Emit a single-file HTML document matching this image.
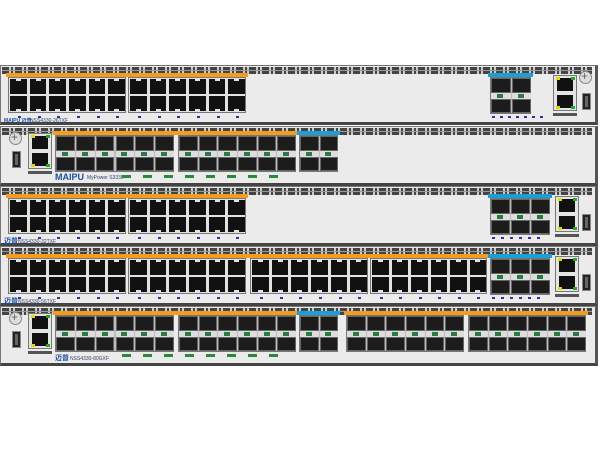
<!DOCTYPE html><html><head><meta charset="utf-8"><style>
body{margin:0;width:600px;height:450px;background:#fff;position:relative;overflow:hidden;font-family:"Liberation Sans","Noto Sans CJK SC",sans-serif}
div{position:absolute;box-sizing:border-box}
.ch{left:0;width:598px;background:#ebebeb;border:1px solid #777;border-right:3px solid #555;border-bottom:3px solid #444}
.vent{left:2px;width:590px;height:7px;background:repeating-linear-gradient(90deg,#444 0 7px,#ccc 7px 9px,#444 9px 11px,#ccc 11px 13px)}
.blk{background:#e2e2e2;border:1px solid #777}
.rj{background:#111}
.bar{height:4px;background:#f39c1e}
.bbar{height:4px;background:#1a9fd6}
.cage{background:#1c1c1c;border:1px solid #666}
.mid{background:#ddd}
.led{width:3px;height:2px;background:#3030a0}
.gled{width:9px;height:3px;background:#2a8a3a}
.t{font-size:5px;color:#346;white-space:nowrap}
.logo{font-weight:bold;color:#1d4fa0;white-space:nowrap}
</style></head><body>
<div id="r"></div>
<script>
var H='';
function d(c,x,y,w,h,s){H+='<div class="'+c+'" style="left:'+x+'px;top:'+y+'px;width:'+w+'px;height:'+h+'px;'+(s||'')+'"></div>';}
function tx(c,x,y,t,s){H+='<div class="'+c+'" style="left:'+x+'px;top:'+y+'px;'+(s||'')+'">'+t+'</div>';}
function chassis(y){d('ch',0,y,598,60);d('vent',2,y+2,590,7);d('',2,y+5,590,1,'background:#999');}
function rjblock(x,y,w){d('bar',x-2,y-4,w+4,4);d('blk',x,y,w,36);var pw=w/6;for(var i=0;i<6;i++){d('rj',x+2+i*pw,y+2,pw-3,15);d('',x+2+i*pw+pw/2-4,y+2,5,2,'background:#e2e2e2');d('rj',x+2+i*pw,y+19,pw-3,15);d('',x+2+i*pw+pw/2-4,y+32,5,2,'background:#e2e2e2');d('led',x+pw/2+i*pw,y+39,3,2);}}
function sfpblock(x,y,w,n,blue){d(blue?'bbar':'bar',x-2,y-4,w+4,4);d('blk',x,y,w,37,'background:#bbb');var pw=w/n;for(var i=0;i<n;i++){d('cage',x+1+i*pw,y+1,pw-1,15);d('mid',x+1+i*pw,y+16,pw-1,6);d('',x+i*pw+pw/2-3,y+17,6,4,'background:#2b7a45');d('cage',x+1+i*pw,y+22,pw-1,14);}}
function console_(x,y){d('blk',x,y,24,36,'background:#e4e4e4');d('rj',x+4,y+3,16,13);d('rj',x+4,y+20,16,13);d('',x+3,y+2,4,3,'background:#dd0');d('',x+18,y+2,4,3,'background:#2a2');d('',x+3,y+31,4,3,'background:#dd0');d('',x+18,y+31,4,3,'background:#2a2');d('',x,y+38,24,3,'background:#555');}
function usb(x,y){d('',x,y,9,17,'background:#222;border:1px solid #888');d('',x+3,y+3,3,11,'background:#666');}
function screw(x,y){d('',x,y,13,13,'border-radius:50%;background:#ddd;border:1px solid #888');tx('',x+2,y-2,'+','font-size:12px;color:#666');}
function leftPanel(y){screw(9,y+6);usb(12,y+25);console_(28,y+7);}
chassis(65);rjblock(8,77,118);rjblock(128,77,118);sfpblock(490,77,41,2,1);console_(553,75);usb(582,93);screw(579,71);
tx('logo',4,117,'MAIPU 迈普','font-size:5px');tx('t',30,118,'NSS4330-26TXF');
for(var i=0;i<7;i++)d('led',492+i*8,116,3,2);
chassis(126);leftPanel(126);sfpblock(55,135,119,6);sfpblock(178,135,118,6);sfpblock(299,135,39,2,1);
tx('logo',55,172,'MAIPU','font-size:9px');tx('t',87,175,'MyPower S3330');
for(var i=0;i<8;i++)d('gled',122+i*21,175,9,3);
chassis(186);rjblock(8,198,118);rjblock(128,198,118);sfpblock(490,198,60,3,1);console_(555,196);usb(582,214);
tx('logo',4,236,'迈普','font-size:7px');tx('t',18,239,'NSS4330-32TXF');
for(var i=0;i<6;i++)d('led',492+i*9,237,3,2);
chassis(246);rjblock(8,258,118);rjblock(128,258,118);rjblock(250,258,118);rjblock(370,258,117);sfpblock(490,258,60,3,1);console_(555,256);usb(582,274);
tx('logo',4,296,'迈普','font-size:7px');tx('t',18,299,'NSS4330-56TXF');
for(var i=0;i<6;i++)d('led',492+i*9,297,3,2);
chassis(306);leftPanel(306);sfpblock(55,315,119,6);sfpblock(178,315,118,6);sfpblock(299,315,39,2,1);sfpblock(346,315,118,6);sfpblock(468,315,118,6);
tx('logo',55,353,'迈普','font-size:7px');tx('t',70,356,'NSS4330-80GXF');
for(var i=0;i<8;i++)d('gled',122+i*21,354,9,3);
document.getElementById('r').outerHTML=H;
</script>
</body></html>
